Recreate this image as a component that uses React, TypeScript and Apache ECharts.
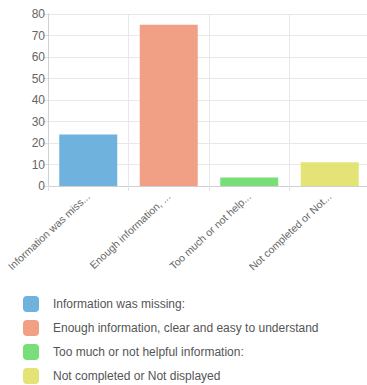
import React, { useEffect, useRef } from "react";
import * as echarts from "echarts";

const categories = [
  "Information was missing:",
  "Enough information, clear and easy to understand",
  "Too much or not helpful information:",
  "Not completed or Not displayed",
];
const values = [24, 75, 4, 11];
const colors = ["#6fb2de", "#f2a085", "#78de78", "#e4e476"];
const yTicks = { min: 0, max: 80, interval: 10 };

export default function App() {
  const ref = useRef<HTMLDivElement>(null);
  useEffect(() => {
    if (!ref.current) return;
    const chart = echarts.init(ref.current, null, { renderer: "svg" });
    const font = "'Liberation Sans', Arial, Helvetica, sans-serif";
    const series = categories.map((name, i) => ({
      name,
      type: "bar",
      stack: "all",
      barWidth: 58,
      itemStyle: { color: colors[i] },
      data: values.map((v, j) => (j === i ? v : "-")),
    }));
    chart.setOption({
      animation: false,
      textStyle: { fontFamily: font },
      grid: {
        left: 48,
        right: -3,
        top: 14,
        bottom: 199,
        containLabel: false,
        outerBoundsMode: "none",
      },
      xAxis: {
        type: "category",
        data: categories,
        boundaryGap: true,
        axisLine: { show: true, lineStyle: { color: "#d0d0d0" } },
        axisTick: { show: true, length: 5, lineStyle: { color: "#e0e0e0" } },
        splitLine: { show: true, lineStyle: { color: "#e8e8e8" } },
        axisLabel: {
          rotate: 43,
          interval: 0,
          margin: 9,
          fontSize: 10.5,
          color: "#666",
          fontFamily: font,
          formatter: (s: string) => (s.length > 20 ? s.slice(0, 20) + "..." : s),
        },
      },
      yAxis: {
        type: "value",
        min: yTicks.min,
        max: yTicks.max,
        interval: yTicks.interval,
        axisLine: { show: true, lineStyle: { color: "#d0d0d0" } },
        axisTick: { show: true, length: 5, lineStyle: { color: "#e0e0e0" } },
        splitLine: { show: true, lineStyle: { color: "#e8e8e8" } },
        axisLabel: { fontSize: 12, color: "#666", margin: 3, fontFamily: font },
      },
      legend: {
        orient: "vertical",
        left: 23,
        top: 296,
        height: 200,
        padding: 0,
        itemWidth: 16,
        itemHeight: 16,
        itemGap: 8,
        icon: "roundRect",
        textStyle: { fontSize: 12, color: "#555", fontFamily: font, padding: [0, 0, 0, 9] },
        data: categories,
      },
      series,
    });
    return () => chart.dispose();
  }, []);
  return <div ref={ref} style={{ width: 367, height: 385, position: "absolute", left: 0, top: 0 }} />;
}
